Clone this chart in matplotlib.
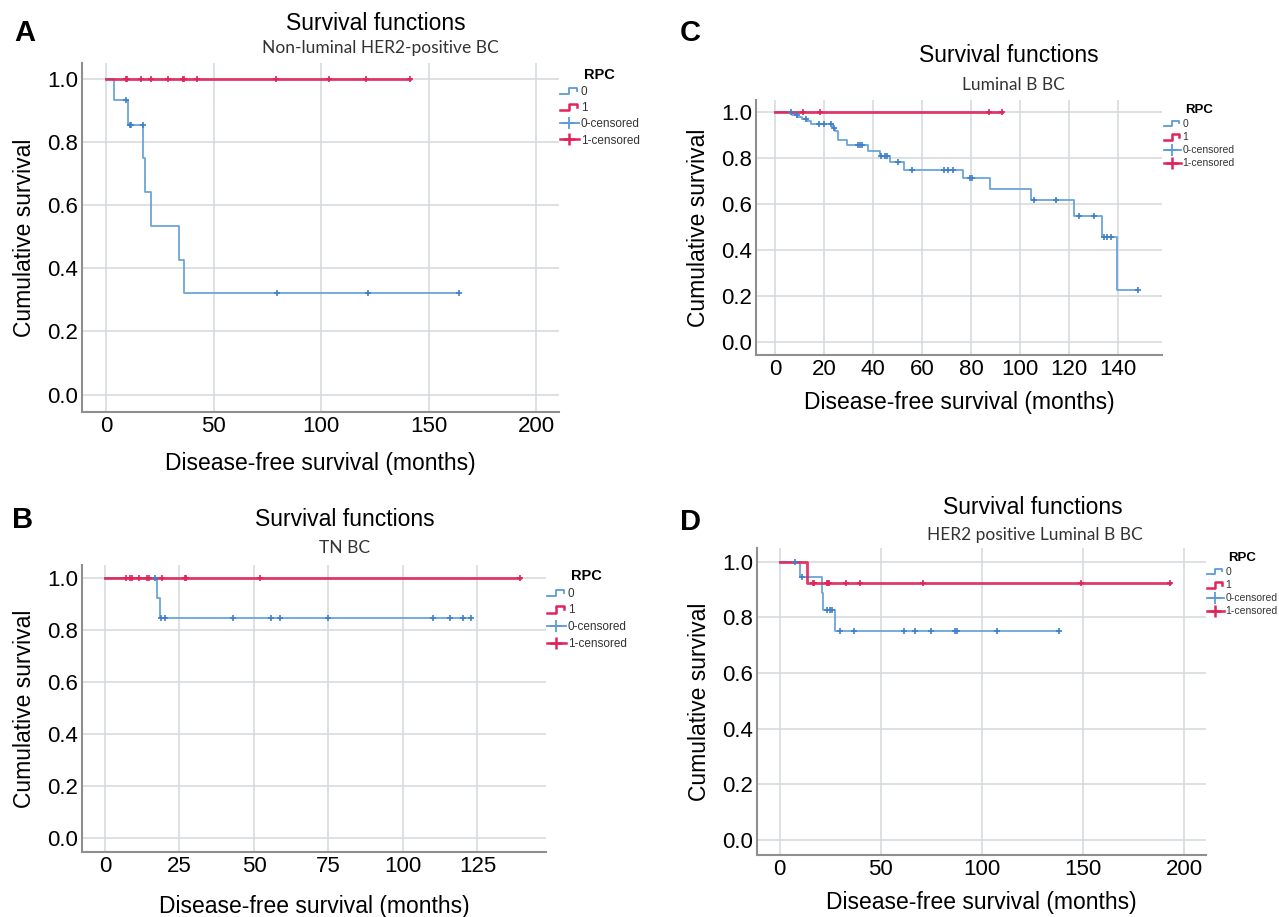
from __future__ import annotations

import matplotlib

matplotlib.use("Agg")

import matplotlib.pyplot as plt
import numpy as np
from matplotlib.legend_handler import HandlerBase
from matplotlib.lines import Line2D

FIG_W, FIG_H = 1279, 917

BLUE = "#5b9bd5"
BLUE_MARK = "#3f7fcc"
RED = "#e0245a"
GRID = "#d3d9dc"
SPINE = "#8f8f8f"

# A: non-luminal HER2-positive
A_G0_TIMES = [3.7, 10.2, 17.4, 18.2, 20.7, 34.0, 36.4]
A_G0_SURV = [0.933, 0.855, 0.748, 0.641, 0.534, 0.427, 0.321]
A_G0_CENS = [9.4, 11.0, 11.6, 17.0, 79.5, 122.0, 164.0]
A_G1_TIMES: list[float] = []
A_G1_SURV: list[float] = []
A_G1_CENS = [9.3, 9.8, 16.4, 21.0, 28.8, 35.8, 36.4, 42.2, 79.0, 103.5, 121.0, 141.5]
A_XTICKS = [0, 50, 100, 150, 200]

# B: triple negative
B_G0_TIMES = [17.5, 18.4]
B_G0_SURV = [0.923, 0.846]
B_G0_CENS = [16.8, 18.8, 20.3, 43.0, 55.6, 58.6, 75.0, 110.0, 115.8, 120.0, 122.8]
B_G1_TIMES: list[float] = []
B_G1_SURV: list[float] = []
B_G1_CENS = [7.2, 8.3, 9.0, 11.4, 14.0, 14.8, 19.0, 26.7, 27.1, 52.0, 139.2]
B_XTICKS = [0, 25, 50, 75, 100, 125]

# C: luminal B
C_G0_TIMES = [7.0, 8.9, 10.9, 12.9, 14.7, 23.5, 24.3, 25.4, 29.1, 37.7, 42.7, 47.0,
              52.5, 76.5, 87.6, 104.3, 121.8, 133.4, 139.7]
C_G0_SURV = [0.986, 0.976, 0.966, 0.957, 0.944, 0.930, 0.915, 0.877, 0.856, 0.830, 0.808,
             0.783, 0.747, 0.711, 0.664, 0.616, 0.548, 0.457, 0.227]
C_G0_CENS = [6.2, 8.7, 12.6, 17.7, 20.0, 22.8, 24.1, 33.6, 34.6, 35.4, 43.0, 44.6, 45.7,
             50.0, 55.8, 68.8, 70.7, 72.7, 79.6, 80.4, 105.7, 114.7, 124.1, 130.0, 134.1,
             135.5, 137.0, 148.3]
C_G1_TIMES: list[float] = []
C_G1_SURV: list[float] = []
C_G1_CENS = [11.3, 18.4, 87.2, 92.4]
C_XTICKS = [0, 20, 40, 60, 80, 100, 120, 140]

# D: HER2-positive luminal B
D_G0_TIMES = [10.2, 20.8, 21.6, 27.5]
D_G0_SURV = [0.946, 0.888, 0.826, 0.752]
D_G0_CENS = [7.6, 11.0, 23.5, 24.7, 25.9, 29.8, 37.0, 61.5, 67.0, 75.0, 86.8, 87.6, 107.5, 138.2]
D_G1_TIMES = [13.4]
D_G1_SURV = [0.923]
D_G1_CENS = [16.6, 17.2, 23.4, 24.0, 24.5, 32.7, 39.6, 71.1, 149.1, 193.0]
D_XTICKS = [0, 50, 100, 150, 200]

YTICKS = [0.0, 0.2, 0.4, 0.6, 0.8, 1.0]
LEGEND_LABELS = ["0", "1", "0-censored", "1-censored"]
SANS = ["Liberation Sans", "DejaVu Sans"]


class StepHandler(HandlerBase):
    def create_artists(self, legend, orig_handle, xdescent, ydescent, width, height, fontsize, trans):
        xs = np.array([0.0, 0.5, 0.5, 0.92, 0.92]) * width - xdescent
        ys = np.array([0.1, 0.1, 0.85, 0.85, 0.5]) * height - ydescent
        line = Line2D(xs, ys, color=orig_handle.get_color(), lw=orig_handle.get_linewidth())
        line.set_transform(trans)
        return [line]


def px_rect(left, top, right, bottom):
    return [left / FIG_W, 1 - bottom / FIG_H, (right - left) / FIG_W, (bottom - top) / FIG_H]


def km_line(times, surv, cens):
    end = max(list(times) + list(cens))
    xs = [0.0] + list(times) + [end]
    ys = [1.0] + list(surv) + [surv[-1] if surv else 1.0]
    return xs, ys


def levels_at(times, surv, cens):
    table = np.array([1.0] + list(surv))
    idx = np.searchsorted(np.array(times, dtype=float), np.array(cens), side="right")
    return table[idx]


def draw_panel(fig, panel):
    ax = fig.add_axes(px_rect(*panel["box"]))
    for times, surv, cens, color, mark, lw in (
        (panel["g0"][0], panel["g0"][1], panel["g0"][2], BLUE, BLUE_MARK, 1.3),
        (panel["g1"][0], panel["g1"][1], panel["g1"][2], RED, RED, 2.0),
    ):
        xs, ys = km_line(times, surv, cens)
        ax.step(xs, ys, where="post", color=color, lw=lw, alpha=0.9, zorder=3)
        ax.plot(cens, levels_at(times, surv, cens), ls="none", marker="+",
                ms=5, mew=1.2, color=mark, zorder=4)

    ax.set_xlim(*panel["xlim"])
    ax.set_ylim(-0.055, 1.05)
    ax.set_xticks(panel["xticks"])
    ax.set_yticks(YTICKS)
    ax.set_yticklabels([f"{v:.1f}" for v in YTICKS])
    ax.tick_params(length=0, labelsize=16, pad=3)
    for lab in ax.get_xticklabels() + ax.get_yticklabels():
        lab.set_family(SANS)
    ax.grid(True, color=GRID, lw=1.1)
    ax.set_axisbelow(True)
    for side in ("top", "right"):
        ax.spines[side].set_visible(False)
    for side in ("left", "bottom"):
        ax.spines[side].set_color(SPINE)
        ax.spines[side].set_linewidth(1.5)

    ax.set_xlabel("Disease-free survival (months)", fontsize=16.5, family=SANS,
                  labelpad=panel["xpad"])
    ax.set_ylabel("Cumulative survival", fontsize=16.5, family=SANS, labelpad=panel["ypad"])

    tx, ty = panel["title"]
    fig.text(tx / FIG_W, 1 - ty / FIG_H, "Survival functions", fontsize=16.5,
             family=SANS, ha="center", va="center")
    sx, sy = panel["subtitle"]
    fig.text(sx / FIG_W, 1 - sy / FIG_H, panel["name"], fontsize=12.5, color="#333333",
             family=["Lato", "DejaVu Sans"], ha="center", va="center")
    lx, ly = panel["letter"]
    fig.text(lx / FIG_W, 1 - ly / FIG_H, panel["tag"], fontsize=21, fontweight="bold",
             family=SANS, ha="center", va="center")

    handles = [
        Line2D([], [], color=BLUE, lw=1.3),
        Line2D([], [], color=RED, lw=1.8),
        Line2D([], [], color=BLUE, lw=1.3, marker="+", ms=9, mew=1.3),
        Line2D([], [], color=RED, lw=1.8, marker="+", ms=9, mew=1.8),
    ]
    gx, gy = panel["legend"]
    leg = fig.legend(
        handles, LEGEND_LABELS, title="RPC", loc="upper left",
        bbox_to_anchor=(gx / FIG_W, 1 - gy / FIG_H), frameon=False,
        borderpad=0, borderaxespad=0, handlelength=1.6, handletextpad=0.15,
        labelspacing=panel["lspace"], numpoints=1,
        prop={"family": ["Liberation Sans Narrow", "Liberation Sans", "DejaVu Sans"],
              "size": panel["lsize"]},
        title_fontproperties={"family": SANS, "weight": "bold", "size": panel["lsize"] + 2},
        handler_map={handles[0]: StepHandler(), handles[1]: StepHandler()},
    )
    for text in leg.get_texts():
        text.set_color("#333333")
    return ax


PANELS = [
    dict(tag="A", name="Non-luminal HER2-positive BC", box=(82, 63, 559, 412),
         xlim=(-11.2, 210.7), xticks=A_XTICKS, g0=(A_G0_TIMES, A_G0_SURV, A_G0_CENS),
         g1=(A_G1_TIMES, A_G1_SURV, A_G1_CENS), title=(376, 23), subtitle=(380, 48),
         letter=(25, 33), legend=(560, 68), lsize=8.5, lspace=0.35, xpad=11, ypad=8),
    dict(tag="B", name="TN BC", box=(82, 565, 546, 852),
         xlim=(-7.7, 148.0), xticks=B_XTICKS, g0=(B_G0_TIMES, B_G0_SURV, B_G0_CENS),
         g1=(B_G1_TIMES, B_G1_SURV, B_G1_CENS), title=(345, 520), subtitle=(345, 548),
         letter=(23, 520), legend=(547, 569), lsize=8.5, lspace=0.4, xpad=13, ypad=8),
    dict(tag="C", name="Luminal B BC", box=(756, 100, 1162, 355),
         xlim=(-7.9, 157.9), xticks=C_XTICKS, g0=(C_G0_TIMES, C_G0_SURV, C_G0_CENS),
         g1=(C_G1_TIMES, C_G1_SURV, C_G1_CENS), title=(1009, 55), subtitle=(1013, 85),
         letter=(690, 33), legend=(1164, 104), lsize=7.5, lspace=0.3, xpad=8, ypad=8),
    dict(tag="D", name="HER2 positive Luminal B BC", box=(757, 548, 1206, 855),
         xlim=(-11.2, 210.9), xticks=D_XTICKS, g0=(D_G0_TIMES, D_G0_SURV, D_G0_CENS),
         g1=(D_G1_TIMES, D_G1_SURV, D_G1_CENS), title=(1033, 507), subtitle=(1035, 535),
         letter=(691, 522), legend=(1207, 552), lsize=7.5, lspace=0.3, xpad=8, ypad=8),
]


def main() -> None:
    fig = plt.figure(figsize=(FIG_W / 100, FIG_H / 100), dpi=100)
    fig.patch.set_facecolor("white")
    for panel in PANELS:
        draw_panel(fig, panel)
    fig.savefig("out.png", dpi=100, facecolor="white")
    plt.close(fig)


if __name__ == "__main__":
    main()
